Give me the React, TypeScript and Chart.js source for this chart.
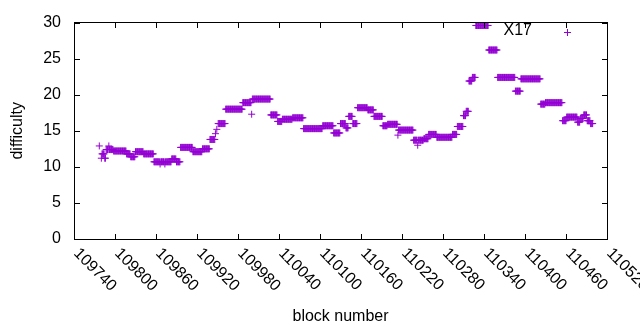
import React, { useEffect, useRef } from "react";
import { Chart, registerables } from "chart.js";

Chart.register(...registerables);

// ---- data (run-length: each block from runStart..runEnd has runDifficulty) ----
const runStart = [
  109777, 109780, 109781, 109785, 109787, 109791, 109792, 109798, 109817, 109823,
  109830, 109842, 109857, 109866, 109867, 109873, 109874, 109883, 109890, 109896,
  109914, 109928, 109939, 109947, 109949, 109951, 109962, 109987, 110000, 110001,
  110028, 110038, 110045, 110060, 110076, 110104, 110120, 110130, 110138, 110142,
  110148, 110155, 110170, 110179, 110192, 110199, 110214, 110215, 110237, 110243,
  110244, 110252, 110259, 110271, 110294, 110301, 110310, 110314, 110318, 110323,
  110328, 110347, 110360, 110386, 110394, 110423, 110430, 110455, 110461, 110477,
  110481, 110486, 110491, 110496,
];
const runEnd = [
  109777, 109780, 109784, 109786, 109790, 109791, 109797, 109816, 109822, 109829,
  109841, 109856, 109865, 109866, 109872, 109873, 109882, 109889, 109895, 109913,
  109927, 109938, 109946, 109947, 109949, 109961, 109986, 109999, 110000, 110027,
  110037, 110044, 110059, 110075, 110103, 110119, 110129, 110137, 110141, 110147,
  110154, 110169, 110178, 110191, 110198, 110213, 110214, 110236, 110242, 110243,
  110251, 110258, 110270, 110293, 110300, 110309, 110313, 110317, 110322, 110327,
  110346, 110359, 110385, 110393, 110422, 110429, 110454, 110460, 110476, 110480,
  110485, 110490, 110495, 110499,
];
const runDifficulty = [
  12.9, 11.2, 11.8, 11.2, 12.4, 12.9, 12.4, 12.2, 11.8, 11.4,
  12.1, 11.8, 10.7, 10.4, 10.7, 10.4, 10.7, 11.1, 10.7, 12.7,
  12.1, 12.5, 13.8, 14.6, 15.2, 16.0, 18.0, 18.9, 17.3, 19.4,
  17.2, 16.3, 16.6, 16.8, 15.3, 15.7, 14.7, 16.0, 15.4, 17.0,
  16.0, 18.2, 17.9, 17.0, 15.7, 15.9, 14.4, 15.1, 13.7, 13.0,
  13.7, 13.9, 14.5, 14.1, 14.5, 15.6, 17.1, 17.7, 21.9, 22.4,
  29.6, 26.2, 22.4, 20.5, 22.2, 18.7, 18.9, 16.4, 16.9, 16.2,
  16.7, 17.2, 16.4, 16.0,
];

const seriesLabel = "X17";
const xTicks = [
  109740, 109800, 109860, 109920, 109980, 110040, 110100,
  110160, 110220, 110280, 110340, 110400, 110460, 110520,
];
const yTicks = [0, 5, 10, 15, 20, 25, 30];
const xTitle = "block number";
const yTitle = "difficulty";

const COLOR = "#9400D3";
const FONT = "'Liberation Sans', Arial, sans-serif";
const FONT_SIZE = 16;
const TICK_LEN = 5;

function buildPoints() {
  const pts: { x: number; y: number }[] = [];
  for (let i = 0; i < runStart.length; i++) {
    for (let b = runStart[i]; b <= runEnd[i]; b++) {
      pts.push({ x: b, y: runDifficulty[i] });
    }
  }
  return pts;
}

const framePlugin = {
  id: "gnuplotFrame",
  afterDraw(chart: any) {
    const { ctx, chartArea } = chart;
    const xs = chart.scales.x;
    const ys = chart.scales.y;
    const L = Math.round(chartArea.left);
    const R = Math.round(chartArea.right);
    const T = Math.round(chartArea.top) - 1;
    const B = Math.round(chartArea.bottom);
    ctx.save();
    ctx.fillStyle = "#000";
    ctx.fillRect(L, T, R - L + 1, 1);
    ctx.fillRect(L, B, R - L + 1, 1);
    ctx.fillRect(L, T, 1, B - T + 1);
    ctx.fillRect(R, T, 1, B - T + 1);
    for (const v of xTicks) {
      const px = Math.round(xs.getPixelForValue(v));
      ctx.fillRect(px, B - TICK_LEN, 1, TICK_LEN);
      ctx.fillRect(px, T + 1, 1, TICK_LEN);
    }
    for (const v of yTicks) {
      const py = Math.round(ys.getPixelForValue(v));
      ctx.fillRect(L + 1, py, TICK_LEN, 1);
      ctx.fillRect(R - TICK_LEN, py, TICK_LEN, 1);
    }

    ctx.font = `${FONT_SIZE}px ${FONT}`;
    ctx.textAlign = "left";
    ctx.textBaseline = "middle";
    for (const v of xTicks) {
      const px = xs.getPixelForValue(v);
      ctx.save();
      ctx.translate(px + 2, chartArea.bottom + 12);
      ctx.rotate(Math.PI / 4);
      ctx.fillText(String(v), 0, 0);
      ctx.restore();
    }

    ctx.textAlign = "right";
    ctx.fillText(chart.data.datasets[0].label, 532, 31);
    ctx.fillStyle = COLOR;
    ctx.fillRect(564, 32, 7, 1);
    ctx.fillRect(567, 29, 1, 7);
    ctx.restore();
  },
};

export default function App() {
  const ref = useRef<HTMLCanvasElement | null>(null);
  useEffect(() => {
    if (!ref.current) return;
    const chart = new Chart(ref.current, {
      type: "scatter",
      data: {
        datasets: [
          {
            label: seriesLabel,
            data: buildPoints(),
            pointStyle: "cross",
            pointRadius: 3.5,
            pointBorderWidth: 1,
            borderColor: COLOR,
            backgroundColor: COLOR,
            showLine: false,
          },
        ],
      },
      options: {
        animation: false,
        responsive: false,
        devicePixelRatio: 1,
        layout: { padding: { top: 20, right: 33, bottom: 0, left: 0 } },
        plugins: { legend: { display: false }, tooltip: { enabled: false } },
        scales: {
          x: {
            type: "linear",
            min: 109740,
            max: 110520,
            ticks: { display: false, stepSize: 60 },
            grid: { display: false, drawTicks: false },
            border: { display: false },
            title: {
              display: true,
              text: xTitle,
              color: "#000",
              font: { family: FONT, size: FONT_SIZE },
              padding: { top: 0, bottom: 4 },
            },
            afterFit: (s: any) => {
              s.height = 91;
            },
          },
          y: {
            min: 0,
            max: 30,
            ticks: {
              stepSize: 5,
              color: "#000",
              font: { family: FONT, size: FONT_SIZE },
              padding: 13,
            },
            grid: { display: false, drawTicks: false },
            border: { display: false },
            title: {
              display: true,
              text: yTitle,
              color: "#000",
              font: { family: FONT, size: FONT_SIZE },
              padding: { top: 8, bottom: 0 },
            },
            afterFit: (s: any) => {
              s.width = 74;
            },
          },
        },
      },
      plugins: [framePlugin],
    });
    return () => chart.destroy();
  }, []);
  return (
    <div style={{ position: "fixed", left: 0, top: 0, width: 640, height: 330, background: "#fff" }}>
      <canvas ref={ref} width={640} height={330} />
    </div>
  );
}
